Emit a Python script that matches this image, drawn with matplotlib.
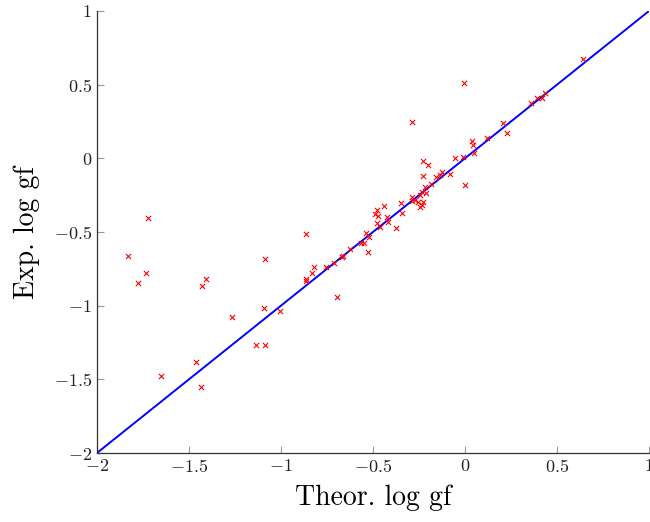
import numpy as np
import matplotlib
matplotlib.use("Agg")
import matplotlib.pyplot as plt
from matplotlib.ticker import FuncFormatter

plt.rcParams['font.family'] = 'serif'
plt.rcParams['font.serif'] = ['cmr10']
plt.rcParams['mathtext.fontset'] = 'cm'
plt.rcParams['axes.formatter.use_mathtext'] = True

# data
theor = [-1.833, -1.724, -1.734, -1.776, -1.654, -1.462, -1.436, -1.408, -1.426,
         -1.266, -1.138, -1.087, -1.094, -1.085, -1.004, -0.864, -0.866, -0.862,
         -0.833, -0.821, -0.755, -0.712, -0.694, -0.670, -0.665, -0.625, -0.565,
         -0.547, -0.538, -0.520, -0.529, -0.489, -0.480, -0.471, -0.480, -0.462,
         -0.440, -0.426, -0.417, -0.376, -0.348, -0.344, -0.286, -0.272, -0.287,
         -0.253, -0.236, -0.245, -0.245, -0.226, -0.236, -0.209, -0.217, -0.185,
         -0.226, -0.226, -0.199, -0.159, -0.136, -0.127, -0.082, -0.054, -0.012,
         0.000, 0.040, 0.045, 0.050, 0.117, 0.204, 0.231, 0.357, 0.389, 0.416,
         0.435, 0.643, -0.004, -0.288]
exper = [-0.661, -0.407, -0.778, -0.844, -1.477, -1.382, -1.554, -0.817, -0.867,
         -1.075, -1.265, -1.265, -1.014, -0.683, -1.034, -0.511, -0.821, -0.831,
         -0.776, -0.738, -0.738, -0.708, -0.943, -0.667, -0.661, -0.618, -0.573,
         -0.577, -0.509, -0.532, -0.634, -0.378, -0.351, -0.391, -0.441, -0.464,
         -0.324, -0.396, -0.430, -0.475, -0.305, -0.369, -0.265, -0.283, -0.288,
         -0.294, -0.317, -0.328, -0.249, -0.294, -0.226, -0.233, -0.192, -0.176,
         -0.118, -0.016, -0.045, -0.129, -0.113, -0.091, -0.108, 0.000, 0.011,
         -0.181, 0.118, 0.091, 0.034, 0.140, 0.238, 0.171, 0.373, 0.407, 0.407,
         0.441, 0.674, 0.514, 0.247]
line_x = [-2, 1]
ticks_x = [-2, -1.5, -1, -0.5, 0, 0.5, 1]
ticks_y = [-2, -1.5, -1, -0.5, 0, 0.5, 1]

fig = plt.figure(figsize=(6.5, 5.22), dpi=100)
ax = fig.add_axes([0.149, 0.132, 0.8495, 0.847])

ax.plot(line_x, line_x, color='blue', linewidth=1.4, zorder=2)
ax.scatter(theor, exper, marker='x', color='red', s=14, linewidths=0.8, zorder=3, clip_on=False)

ax.set_xlim(-2, 1)
ax.set_ylim(-2, 1)
ax.set_xticks(ticks_x)
ax.set_yticks(ticks_y)
fmt = FuncFormatter(lambda v, p: r'$\mathdefault{%s}$' % ('%g' % v).replace('-', '\u2212'))
ax.xaxis.set_major_formatter(fmt)
ax.yaxis.set_major_formatter(fmt)
ax.spines['top'].set_visible(False)
ax.spines['right'].set_visible(False)
for s in ['left', 'bottom']:
    ax.spines[s].set_color('#333333')
    ax.spines[s].set_linewidth(0.9)
ax.tick_params(direction='in', length=5, color='#999999', width=0.8,
               labelsize=13, labelcolor='#222222')

ax.set_xlabel('Theor. log gf', fontsize=20, labelpad=7)
ax.set_ylabel('Exp. log gf', fontsize=20, labelpad=10)

fig.savefig('out.png', dpi=100)
